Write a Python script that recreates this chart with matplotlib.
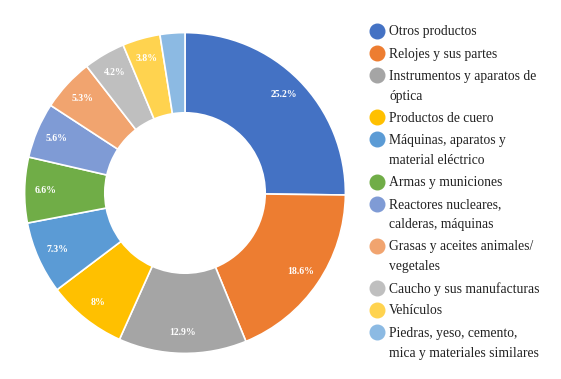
import matplotlib.pyplot as plt
from matplotlib.lines import Line2D
import numpy as np

plt.rcParams['font.family'] = ['Liberation Serif', 'DejaVu Serif']

categories = [
    'Otros productos',
    'Relojes y sus partes',
    'Instrumentos y aparatos de\nóptica',
    'Productos de cuero',
    'Máquinas, aparatos y\nmaterial eléctrico',
    'Armas y municiones',
    'Reactores nucleares,\ncalderas, máquinas',
    'Grasas y aceites animales/\nvegetales',
    'Caucho y sus manufacturas',
    'Vehículos',
    'Piedras, yeso, cemento,\nmica y materiales similares',
]
shares = [25.2, 18.6, 12.9, 8.0, 7.3, 6.6, 5.6, 5.3, 4.2, 3.8, 2.5]
pct_labels = ['25.2%', '18.6%', '12.9%', '8%', '7.3%', '6.6%', '5.6%', '5.3%', '4.2%', '3.8%', '']
colors = ['#4472C4', '#ED7D31', '#A5A5A5', '#FFC000', '#5B9BD5', '#70AD47',
          '#7F9BD5', '#F1A46F', '#BFBFBF', '#FFD34F', '#8CBAE3']

W, H = 561, 379
fig = plt.figure(figsize=(W / 100, H / 100), dpi=100)

# donut: centre (185, 193) px, outer radius 162 px
cx, cy, r = 185, 193, 162
ax = fig.add_axes([(cx - r) / W, (H - cy - r) / H, 2 * r / W, 2 * r / H])
wedges, _ = ax.pie(shares, colors=colors, startangle=90, counterclock=False,
                   radius=1, wedgeprops=dict(width=0.5, edgecolor='white', linewidth=1.2))
ax.set_xlim(-1.01, 1.01)
ax.set_ylim(-1.01, 1.01)
ax.set_aspect('equal')
ax.axis('off')

cum = np.cumsum([0] + shares[:-1])
total = sum(shares)
for start, val, lab in zip(cum, shares, pct_labels):
    mid = (start + val / 2) / total * 2 * np.pi
    x, y = 0.87 * np.sin(mid), 0.87 * np.cos(mid)
    ax.text(x, y, lab, color='white', fontsize=7, fontweight='bold',
            ha='center', va='center')

# legend, drawn by hand so markers sit on the first line
y = 32
for cat, col in zip(categories, colors):
    fig.add_artist(Line2D([377 / W], [(H - y + 1) / H], marker='o', markersize=10.5,
                          color=col, linestyle='none'))
    lines = cat.split('\n')
    for i, line in enumerate(lines):
        fig.text(389 / W, (H - y - 20 * i) / H, line, fontsize=9.8,
                 color='#222222', ha='left', va='center')
    y += 22.1 + 20 * (len(lines) - 1)

fig.savefig('out.png', dpi=100)
